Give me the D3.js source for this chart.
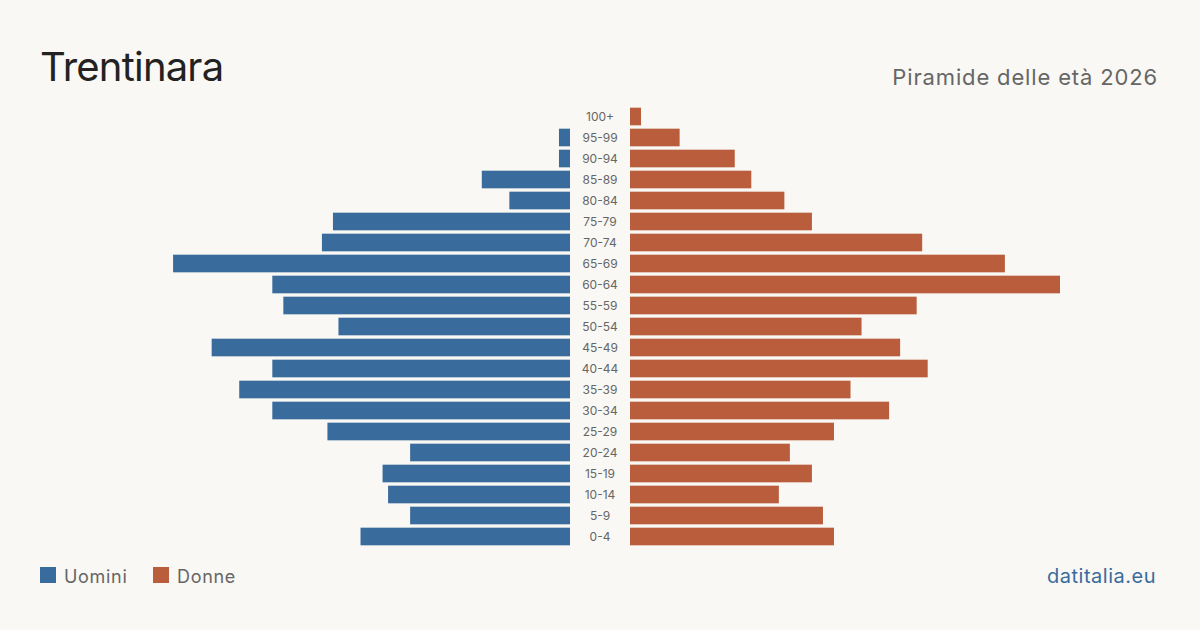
<!DOCTYPE html>
<html><head><meta charset="utf-8">
<script src="https://cdn.jsdelivr.net/npm/d3@7"></script>
<style>
html,body{margin:0;padding:0;background:#f9f8f4;}
svg{display:block;font-family:Inter,"Noto Sans",sans-serif;}
</style></head><body>
<svg id="c" width="1200" height="630"></svg>
<script>
const ageGroups = ["100+","95-99","90-94","85-89","80-84","75-79","70-74","65-69","60-64","55-59","50-54","45-49","40-44","35-39","30-34","25-29","20-24","15-19","10-14","5-9","0-4"];
const men   = [0,2,2,16,11,43,45,72,54,52,42,65,54,60,54,44,29,34,33,29,38];
const women = [2,9,19,22,28,33,53,68,78,52,42,49,54,40,47,37,29,33,27,35,37];
const title = "Trentinara";
const subtitle = "Piramide delle età 2026";
const legendLabels = ["Uomini","Donne"];
const source = "datitalia.eu";

const blue = "#3a6b9d", orange = "#b95d3d";
const svg = d3.select("#c");
svg.append("rect").attr("width",1200).attr("height",630).attr("fill","#f9f8f4");

const maxV = d3.max(men.concat(women));
const xw = d3.scaleLinear().domain([0,maxV]).range([0,430]);
const y = d3.scaleBand().domain(ageGroups).range([106,547]).paddingInner(0.16).paddingOuter(0.08);
const leftEdge = 570, rightEdge = 630, mid = 600;

svg.append("g").selectAll("rect").data(ageGroups).join("rect")
  .attr("x",(d,i)=>leftEdge - xw(men[i])).attr("y",d=>y(d))
  .attr("width",(d,i)=>xw(men[i])).attr("height",y.bandwidth()).attr("fill",blue);
svg.append("g").selectAll("rect").data(ageGroups).join("rect")
  .attr("x",rightEdge).attr("y",d=>y(d))
  .attr("width",(d,i)=>xw(women[i])).attr("height",y.bandwidth()).attr("fill",orange);

const ax = d3.axisLeft(y).tickSize(0).tickPadding(0);
const g = svg.append("g").attr("transform",`translate(${mid},0)`).call(ax);
g.select(".domain").remove();
g.selectAll("text").attr("text-anchor","middle").attr("fill","#666").attr("font-size",12)
  .attr("font-family","Inter,'Noto Sans',sans-serif").attr("dy","0.35em").attr("x",0);

svg.append("text").attr("x",40).attr("y",81).attr("font-size",40).attr("letter-spacing","-0.8px").attr("fill","#222").text(title);
svg.append("text").attr("x",1158).attr("y",85).attr("text-anchor","end").attr("font-size",22).attr("letter-spacing","0.85px").attr("fill","#666").text(subtitle);

const lx = [40,153];
legendLabels.forEach((l,i)=>{
  svg.append("rect").attr("x",lx[i]).attr("y",567).attr("width",16).attr("height",16).attr("fill",i?orange:blue);
  svg.append("text").attr("x",lx[i]+24).attr("y",583).attr("font-size",18).attr("letter-spacing","0.7px").attr("fill","#666").text(l);
});
svg.append("text").attr("x",1156).attr("y",583).attr("text-anchor","end").attr("font-size",20).attr("letter-spacing","0.5px").attr("fill","#3a6b9d").text(source);
</script></body></html>
